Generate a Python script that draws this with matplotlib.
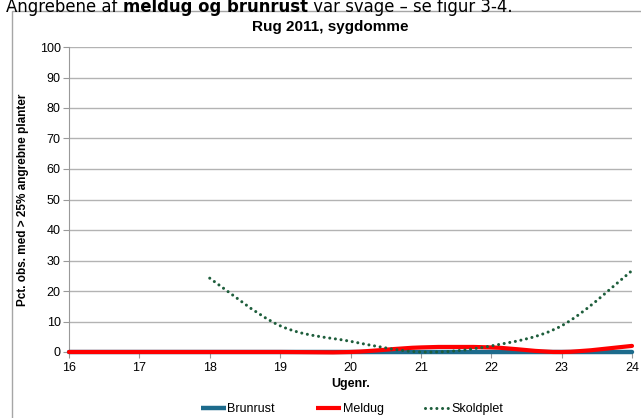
import numpy as np
import matplotlib
matplotlib.use("Agg")
import matplotlib.pyplot as plt
from matplotlib.path import Path
from matplotlib.patches import PathPatch, Rectangle
from matplotlib.lines import Line2D

weeks = [16, 17, 18, 19, 20, 21, 22, 23, 24]
brunrust = [0, 0, 0, 0, 0, 0, 0, 0, 0]
meldug = [0, 0, 0, 0, 0, 1.5, 1.5, 0, 2.0]
skold_weeks = [18, 19, 20, 21, 22, 23, 24]
skoldplet = [24.2, 8.6, 3.5, 0, 2.0, 8.6, 26.7]

plt.rcParams['font.family'] = ['Liberation Sans', 'DejaVu Sans']

W, H = 641, 418
fig = plt.figure(figsize=(W / 100, H / 100), dpi=100)
ax = fig.add_axes([69 / W, 1 - 352 / H, (632 - 69) / W, (352 - 47) / H])


def smooth_path(xs, ys):
    xs = np.asarray(xs, float)
    ys = np.asarray(ys, float)
    n = len(xs)
    verts = [(xs[0], ys[0])]
    codes = [Path.MOVETO]
    for i in range(n - 1):
        p0 = (xs[max(i - 1, 0)], ys[max(i - 1, 0)])
        p1 = (xs[i], ys[i])
        p2 = (xs[i + 1], ys[i + 1])
        p3 = (xs[min(i + 2, n - 1)], ys[min(i + 2, n - 1)])
        c1 = (p1[0] + (p2[0] - p0[0]) / 6, p1[1] + (p2[1] - p0[1]) / 6)
        c2 = (p2[0] - (p3[0] - p1[0]) / 6, p2[1] - (p3[1] - p1[1]) / 6)
        verts += [c1, c2, p2]
        codes += [Path.CURVE4] * 3
    return Path(verts, codes)


series = [
    (weeks, brunrust, '#1d6b8c', '-', 3.2, 'Brunrust'),
    (weeks, meldug, '#ff0000', '-', 3.0, 'Meldug'),
    (skold_weeks, skoldplet, '#1e5e3c', (0, (0.01, 1.85)), 2.2, 'Skoldplet'),
]
handles = []
for xs, ys, c, ls, lw, lab in series:
    p = PathPatch(smooth_path(xs, ys), facecolor='none', edgecolor=c,
                  lw=lw, linestyle=ls, capstyle='round', zorder=3, clip_on=False)
    ax.add_patch(p)
    handles.append(Line2D([], [], color=c, lw=lw, linestyle=ls, label=lab,
                          dash_capstyle='round', solid_capstyle='butt'))

ax.set_xlim(16, 24)
ax.set_ylim(0, 100)
ax.set_xticks(weeks)
ax.set_yticks(range(0, 101, 10))
ax.grid(axis='y', color='#b3b3b3', lw=1)
ax.set_axisbelow(True)
for s in ['top', 'right', 'bottom']:
    ax.spines[s].set_visible(False)
ax.spines['left'].set_color('#999999')
ax.tick_params(axis='both', labelsize=9, color='#999999', length=4, pad=2)
ax.tick_params(axis='x', pad=3)
ax.set_xlabel('Ugenr.', fontsize=9, fontweight='bold', labelpad=3)
ax.set_ylabel('Pct. obs. med > 25% angrebne planter', fontsize=8.5,
              fontweight='bold', labelpad=8)
fig.text(330 / W, 1 - 27 / H, 'Rug 2011, sygdomme', fontsize=11,
         fontweight='bold', ha='center', va='center')

fig.legend(handles=handles, loc='center', bbox_to_anchor=(352 / W, 1 - 409 / H),
           ncol=3, frameon=False, fontsize=9, handlelength=2.0,
           handletextpad=0.1, columnspacing=3.3)

fig.patches.append(Rectangle((12 / W, -0.1), 1.0, 1 - 11 / H + 0.1,
                             transform=fig.transFigure, fill=False,
                             edgecolor='#a6a6a6', lw=1))

# introductory sentence above the chart
parts = [('Angrebene af ', 'normal'), ('meldug og brunrust', 'bold'),
         (' var svage – se figur 3-4.', 'normal')]
r = fig.canvas.get_renderer()
fs = 11.0
tmp = []
total = 0
for txt, w in parts:
    t = fig.text(0, 0, txt, fontsize=fs, family='DejaVu Sans', fontweight=w)
    total += t.get_window_extent(renderer=r).width
    tmp.append(t)
for t in tmp:
    t.remove()
fs = fs * 508 / total
x = 6 / W
for txt, w in parts:
    t = fig.text(x, 1 - 12 / H, txt, fontsize=fs, family='DejaVu Sans',
                 fontweight=w, va='baseline', ha='left', zorder=5)
    x += t.get_window_extent(renderer=r).width / W

fig.savefig('out.png', dpi=100)
